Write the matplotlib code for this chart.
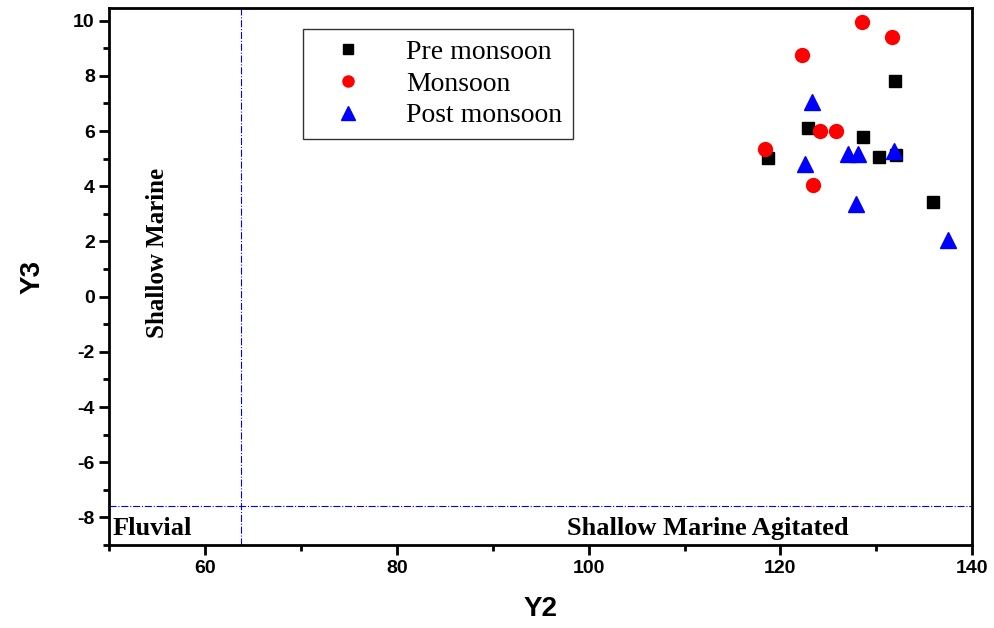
import matplotlib.pyplot as plt
from matplotlib.ticker import MultipleLocator

plt.rcParams['axes.unicode_minus'] = False

# datos
pre_x = [132.0, 122.9, 128.6, 118.7, 130.3, 132.1, 135.9]
pre_y = [7.82, 6.11, 5.77, 5.01, 5.05, 5.13, 3.43]
mon_x = [128.5, 131.6, 122.3, 124.1, 125.8, 118.4, 123.4]
mon_y = [9.94, 9.39, 8.76, 5.99, 5.99, 5.34, 4.03]
post_x = [123.3, 122.6, 127.0, 128.1, 131.9, 127.9, 137.5]
post_y = [7.05, 4.80, 5.16, 5.16, 5.26, 3.36, 2.05]
lim_y2 = 63.7
lim_y3 = -7.6

fig = plt.figure(figsize=(9.94, 6.28), dpi=100)
ax = fig.add_axes([0.110, 0.132, 0.868, 0.855])

ax.plot(pre_x, pre_y, 's', color='black', markersize=9, label='Pre monsoon', zorder=3)
ax.plot(mon_x, mon_y, 'o', color='red', markersize=10, label='Monsoon', zorder=3)
ax.plot(post_x, post_y, '^', color='blue', markersize=12, label='Post monsoon', zorder=3)

# lineas de separacion
ax.axvline(lim_y2, color='blue', linestyle='-.', linewidth=0.8)
ax.axhline(lim_y3, color='blue', linestyle='-.', linewidth=0.8)

serif = 'Liberation Serif'
ax.text(55, 1.6, 'Shallow Marine', rotation=90, ha='center', va='center',
        fontsize=18, fontweight='bold', family=serif)
ax.text(50.3, -8.4, 'Fluvial', ha='left', va='center',
        fontsize=19, fontweight='bold', family=serif)
ax.text(112.4, -8.4, 'Shallow Marine Agitated', ha='center', va='center',
        fontsize=19, fontweight='bold', family=serif)

ax.set_xlim(50, 140)
ax.set_ylim(-9, 10.45)
ax.xaxis.set_major_locator(MultipleLocator(20))
ax.xaxis.set_minor_locator(MultipleLocator(10))
ax.yaxis.set_major_locator(MultipleLocator(2))
ax.yaxis.set_minor_locator(MultipleLocator(1))
ax.tick_params(which='major', direction='out', length=7, width=2, labelsize=14)
ax.tick_params(which='minor', direction='out', length=4, width=2)
for lbl in ax.get_xticklabels() + ax.get_yticklabels():
    lbl.set_fontweight('bold')
    lbl.set_family('Liberation Sans')
for s in ax.spines.values():
    s.set_linewidth(2)

ax.set_xlabel('Y2', fontsize=20, fontweight='bold', family='Liberation Sans', labelpad=14)
ax.set_ylabel('Y3', fontsize=20, fontweight='bold', family='Liberation Sans', labelpad=20)

leg = ax.legend(loc='upper left', bbox_to_anchor=(0.225, 0.962), fancybox=False,
                edgecolor='black', prop={'family': serif, 'size': 20},
                markerscale=0.8, handlelength=2.4, handletextpad=0.9, borderpad=0.4,
                borderaxespad=0, labelspacing=0.22)
leg.get_frame().set_linewidth(1)

fig.savefig('out.png', dpi=100)
